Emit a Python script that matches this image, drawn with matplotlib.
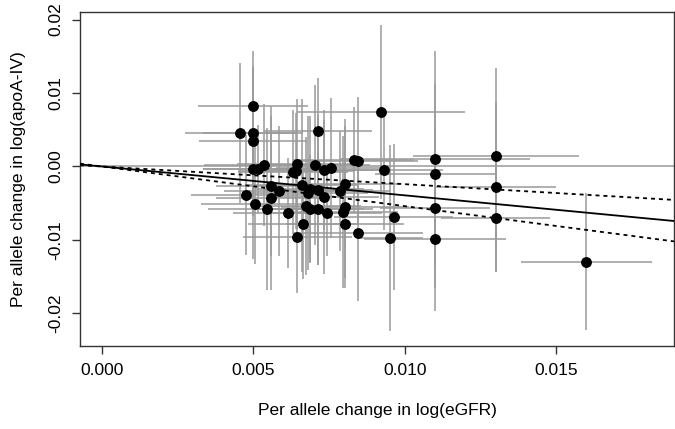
import matplotlib
matplotlib.use("Agg")
import matplotlib.pyplot as plt
import numpy as np

# Per-variant effects
egfr_beta = [0.0050, 0.00457, 0.0050, 0.0050, 0.0050, 0.00515, 0.00536, 0.00645, 0.00631, 0.00641,
             0.00557, 0.00585, 0.00660, 0.00477, 0.00557, 0.00680, 0.00923, 0.00715, 0.00705, 0.00735,
             0.00756, 0.00834, 0.00845, 0.00933, 0.00804, 0.00785, 0.00715, 0.00686, 0.00735, 0.00506,
             0.00546, 0.00615, 0.00665, 0.00646, 0.00674, 0.00686, 0.00715, 0.00745, 0.00804, 0.00796,
             0.00804, 0.00845, 0.00963, 0.00953, 0.0110, 0.0110, 0.0130, 0.0130, 0.0110, 0.0130,
             0.0110, 0.0160]
apoa_beta = [0.00827, 0.00452, 0.00452, 0.00351, -0.00030, -0.00038, 0.00016, 0.00038, -0.00075, -0.00061,
             -0.00261, -0.00329, -0.00258, -0.00392, -0.00432, -0.00356, 0.00737, 0.00483, 0.00016, -0.00052,
             -0.00020, 0.00084, 0.00075, -0.00048, -0.00234, -0.00329, -0.00320, -0.00310, -0.00411, -0.00514,
             -0.00578, -0.00632, -0.00778, -0.00955, -0.00533, -0.00578, -0.00578, -0.00636, -0.00551, -0.00623,
             -0.00786, -0.00908, -0.00683, -0.00976, 0.00098, -0.00106, 0.00143, -0.00275, -0.00568, -0.00696,
             -0.00986, -0.01295]
egfr_ci = [0.00181, 0.00181, 0.00165, 0.00178, 0.00165, 0.00181, 0.00198, 0.00198, 0.00181, 0.00191,
           0.00181, 0.00181, 0.00181, 0.00181, 0.00181, 0.00198, 0.00277, 0.00178, 0.00181, 0.00198,
           0.00181, 0.00198, 0.00198, 0.00195, 0.00181, 0.00165, 0.00181, 0.00181, 0.00181, 0.00178,
           0.00195, 0.00181, 0.00181, 0.00181, 0.00181, 0.00181, 0.00181, 0.00181, 0.00211, 0.00181,
           0.00195, 0.00214, 0.00195, 0.00106, 0.00313, 0.00198, 0.00274, 0.00198, 0.00181, 0.00181,
           0.00234, 0.00216]
apoa_ci = [0.00748, 0.00952, 0.00884, 0.0102, 0.01224, 0.00598, 0.0083, 0.00884, 0.00843, 0.00789,
           0.00952, 0.00884, 0.01183, 0.00816, 0.01251, 0.01047, 0.01183, 0.00721, 0.01088, 0.00816,
           0.00952, 0.00721, 0.0087, 0.00816, 0.00884, 0.00816, 0.0102, 0.00993, 0.01047, 0.00816,
           0.01102, 0.00748, 0.00748, 0.00762, 0.00938, 0.00734, 0.00762, 0.00585, 0.01102, 0.01034,
           0.00734, 0.00925, 0.00993, 0.01265, 0.01469, 0.01224, 0.01197, 0.01156, 0.01088, 0.00734,
           0.00979, 0.00932]

# IVW slope and its confidence limits (lines through the origin)
slope_est = -0.393
slope_lo = -0.540
slope_hi = -0.241

x_ticks = [0.000, 0.005, 0.010, 0.015]
x_tick_labels = ["0.000", "0.005", "0.010", "0.015"]
y_ticks = [-0.02, -0.01, 0.00, 0.01, 0.02]
y_tick_labels = ["-0.02", "-0.01", "0.00", "0.01", "0.02"]

plt.rcParams['font.family'] = ['Liberation Sans', 'DejaVu Sans']

fig = plt.figure(figsize=(6.75, 4.29), dpi=100)
ax = fig.add_axes([80/675, 1 - 346/429, 594/675, (346 - 11.7)/429])

gray = '#9a9a9a'
x = np.array(egfr_beta)
y = np.array(apoa_beta)
xe = np.array(egfr_ci)
ye = np.array(apoa_ci)

ax.axhline(0, color=gray, lw=1.1, zorder=1)
ax.hlines(y, x - xe, x + xe, color=gray, lw=1.1, zorder=2)
ax.vlines(x, y - ye, y + ye, color=gray, lw=1.1, zorder=2)
ax.plot(x, y, 'o', color='black', markersize=6.8, zorder=4)

ax.axline((0, 0), slope=slope_est, color='black', lw=1.3, zorder=5)
ax.axline((0, 0), slope=slope_lo, color='black', lw=1.3, ls=(0, (2.2, 2.2)), zorder=5)
ax.axline((0, 0), slope=slope_hi, color='black', lw=1.3, ls=(0, (2.2, 2.2)), zorder=5)

ax.set_xlim(-0.00072, 0.01889)
ax.set_ylim(-0.02444, 0.02107)
ax.set_xticks(x_ticks)
ax.set_xticklabels(x_tick_labels)
ax.set_yticks(y_ticks)
ax.set_yticklabels(y_tick_labels, rotation=90, va='center')

for s in ax.spines.values():
    s.set_color('#333333')
    s.set_linewidth(1.0)
ax.tick_params(direction='out', length=6, width=1.0, color='#333333', labelsize=12.5, pad=6)

ax.set_xlabel("Per allele change in log(eGFR)", fontsize=12.5, labelpad=18)
ax.set_ylabel("Per allele change in log(apoA-IV)", fontsize=12.5, labelpad=16)

fig.savefig("out.png", dpi=100)
